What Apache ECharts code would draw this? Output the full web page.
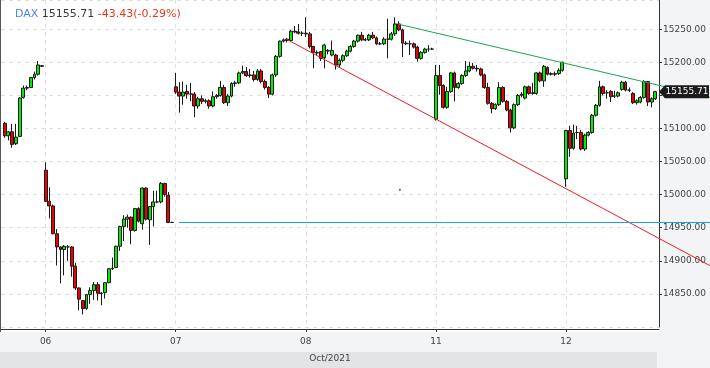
<!DOCTYPE html>
<html><head><meta charset="utf-8">
<script src="https://cdn.jsdelivr.net/npm/echarts/dist/echarts.min.js"></script>
<style>html,body{margin:0;padding:0;background:#f3f4f6}#c{width:710px;height:368px}</style>
</head><body><div id="c"></div>
<script>
// ---- data ----
const symbolName = 'DAX';
const lastText = '15155.71';
const changeText = '-43.43(-0.29%)';
const monthLabel = 'Oct/2021';
const dayLabels = ['05', '06', '07', '08', '11', '12'];
const slotTimes = []; // 15-minute slots 09:00 .. 17:30
for (let m = 9 * 60; m <= 17 * 60 + 30; m += 15) slotTimes.push(String(Math.floor(m / 60)).padStart(2, '0') + ':' + String(m % 60).padStart(2, '0'));
const yTicks = [14850, 14900, 14950, 15000, 15050, 15100, 15150, 15200, 15250];

// [open, close, low, high]
const oct05 = [
  [15108,15089,15086,15110],[15089,15095,15082,15096],[15095,15076,15071,15107],[15077,15087,15075,15107],
  [15088,15146,15087,15147],[15147,15161,15145,15165],[15161,15162,15158,15165],[15162,15177,15161,15178],
  [15177,15182,15174,15186],[15182,15196,15180,15202],[15195,15194,15193,15196]
];
const oct06 = [
  [15037,14990,14989,15049],[14990,14983,14964,15011],[14983,14941,14940,14985],[14941,14921,14893,14948],
  [14921,14917,14866,14922],[14917,14922,14878,14924],[14921,14921,14900,14924],[14921,14892,14876,14922],
  [14892,14859,14856,14897],[14859,14842,14825,14860],[14840,14828,14819,14841],[14828,14849,14826,14850],
  [14849,14855,14835,14860],[14855,14864,14841,14868],[14864,14851,14840,14868],[14851,14851,14833,14853],
  [14852,14867,14843,14868],[14867,14888,14866,14889],[14888,14889,14886,14905],[14890,14922,14889,14923],
  [14922,14952,14915,14953],[14952,14963,14930,14969],[14963,14966,14950,14970],[14966,14946,14925,14967],
  [14946,14979,14944,14980],[14979,14960,14958,14981],[14956,15010,14947,15011],[15010,14963,14961,15011],
  [14962,14982,14924,14983],[14982,14989,14952,15006],[14989,14989,14987,15006],[14989,15017,14987,15019],
  [15017,15000,14997,15018],[14999,14958,14957,15004],[14958,14958,14957,14959]
];
const oct07 = [
  [15163,15155,15152,15184],[15155,15149,15124,15170],[15149,15155,15136,15171],[15156,15152,15145,15166],
  [15152,15152,15141,15169],[15152,15134,15117,15155],[15134,15145,15130,15148],[15145,15141,15137,15150],
  [15141,15142,15138,15145],[15142,15134,15130,15144],[15134,15148,15132,15156],[15148,15150,15145,15152],
  [15150,15162,15148,15172],[15162,15139,15137,15166],[15139,15149,15134,15152],[15149,15168,15147,15170],
  [15168,15169,15163,15172],[15169,15184,15167,15186],[15184,15186,15182,15195],[15186,15180,15178,15193],
  [15180,15181,15177,15190],[15181,15174,15171,15187],[15174,15187,15172,15190],[15187,15171,15168,15190],
  [15171,15162,15159,15174],[15162,15152,15146,15164],[15152,15181,15150,15183],[15181,15209,15178,15211],
  [15209,15232,15207,15233],[15232,15234,15230,15236],[15235,15233,15230,15237],[15233,15247,15232,15249],
  [15247,15246,15244,15255],[15246,15244,15242,15258],[15244,15244,15240,15247]
];
const oct08 = [
  [15244,15243,15238,15268],[15243,15224,15221,15246],[15224,15215,15191,15225],[15215,15214,15210,15218],
  [15216,15206,15202,15217],[15207,15226,15191,15228],[15218,15217,15212,15220],[15211,15218,15209,15233],
  [15211,15196,15189,15213],[15196,15203,15192,15206],[15203,15210,15200,15212],[15210,15217,15208,15219],
  [15217,15224,15215,15226],[15224,15232,15222,15234],[15232,15241,15230,15242],[15241,15234,15232,15246],
  [15234,15234,15232,15237],[15234,15241,15232,15243],[15241,15237,15235,15246],[15237,15228,15226,15239],
  [15228,15228,15226,15231],[15228,15235,15226,15238],[15235,15235,15206,15266],[15235,15243,15233,15246],
  [15243,15258,15240,15268],[15258,15249,15247,15262],[15249,15229,15208,15251],[15229,15228,15226,15232],
  [15228,15228,15211,15233],[15228,15223,15221,15230],[15223,15206,15201,15225],[15206,15215,15204,15217],
  [15215,15220,15213,15222],[15220,15220,15216,15226],[15220,15220,15219,15222]
];
const oct11 = [
  [15114,15180,15112,15196],[15180,15165,15151,15196],[15165,15132,15130,15167],[15132,15156,15130,15163],
  [15156,15184,15154,15185],[15184,15162,15141,15186],[15162,15168,15160,15170],[15168,15180,15166,15182],
  [15180,15187,15178,15202],[15187,15194,15185,15201],[15194,15191,15189,15199],[15191,15190,15186,15196],
  [15190,15181,15179,15192],[15181,15162,15160,15183],[15162,15138,15136,15169],[15138,15130,15123,15140],
  [15130,15136,15128,15138],[15136,15162,15134,15170],[15162,15141,15139,15164],[15141,15128,15126,15143],
  [15128,15101,15094,15130],[15101,15136,15099,15138],[15136,15150,15134,15152],[15150,15152,15147,15155],
  [15146,15163,15144,15165],[15163,15153,15151,15165],[15154,15153,15151,15169],[15153,15184,15151,15185],
  [15184,15172,15170,15186],[15172,15194,15163,15196],[15192,15182,15180,15194],[15182,15183,15180,15185],
  [15183,15182,15179,15186],[15183,15188,15181,15191],[15188,15200,15186,15201]
];
const oct12 = [
  [15024,15097,15012,15098],[15097,15070,15057,15104],[15070,15093,15068,15106],[15094,15094,15084,15104],
  [15094,15069,15067,15098],[15069,15090,15066,15092],[15090,15094,15088,15096],[15094,15120,15092,15122],
  [15120,15135,15118,15137],[15135,15163,15133,15172],[15163,15153,15150,15165],[15154,15154,15145,15158],
  [15156,15148,15140,15158],[15149,15149,15146,15157],[15149,15154,15147,15156],[15159,15170,15157,15172],
  [15170,15158,15156,15172],[15158,15158,15155,15162],[15153,15139,15137,15155],[15139,15142,15136,15144],
  [15140,15147,15138,15149],[15147,15171,15145,15173],[15171,15140,15134,15172],[15140,15145,15132,15147],
  [15145,15155.71,15143,15157]
];
const lastClose = 15155.71;

// drawn lines: [candle index, price]
const greenTrend = [[106.9, 15258], [190.7, 15148.5]];
const redTrend = [[76.85, 15235.3], [190.7, 14896.4]];
const cyanLevel = [[47.9, 14961], [190.7, 14961]];
const stray = [[107.3, 15010]];

// ---- build ----
const EMPTY = ['-', '-', '-', '-'];
const days = [oct05, oct06, oct07, oct08, oct11, oct12];
const categories = ['05 14:45'];
const candles = [EMPTY];
days.forEach((d, di) => {
  const startSlot = di === 0 ? slotTimes.length - d.length : 0;
  d.forEach((c, i) => { categories.push(dayLabels[di] + ' ' + slotTimes[startSlot + i]); candles.push(c); });
});
categories.push('12 15:15'); candles.push(EMPTY);

const FONT = 'DejaVu Sans';
const GL = 1, GR = 51, GT = 0, GB = 38, W = 710;
const step = (W - GL - GR) / (categories.length - 1);
const uMin = -GL / step, uMax = uMin + W / step;
const YMIN = 14800, YMAX = 15294.2;
const isDayStart = (idx, val) => /09:00$/.test(val);

const chart = echarts.init(document.getElementById('c'));
chart.setOption({
  animation: false,
  backgroundColor: '#f3f4f6',
  title: {
    left: 10, top: 4,
    text: '{n|' + symbolName + '} {p|' + lastText + '} {c|' + changeText + '}',
    textStyle: { fontFamily: FONT, fontSize: 11, fontWeight: 'normal',
      rich: { n: { color: '#4a7ff2', fontFamily: FONT, fontSize: 11 }, p: { color: '#3a3a3a', fontFamily: FONT, fontSize: 11 }, c: { color: '#e8361e', fontFamily: FONT, fontSize: 11 } } }
  },
  graphic: [
    { type: 'rect', z: -100, silent: true, shape: { x: 0, y: 0, width: 659, height: 332 }, style: { fill: '#ffffff' } },
    { type: 'rect', z: -100, silent: true, shape: { x: 0, y: 352, width: 657, height: 16 }, style: { fill: '#e3e4e6' } },
    { type: 'line', z: 50, silent: true, shape: { x1: 0.5, y1: 0, x2: 0.5, y2: 332 }, style: { stroke: '#555', lineWidth: 1 } }
  ],
  grid: [
    { left: GL, right: GR, top: GT, bottom: GB },
    { left: 0, right: 0, top: GT, bottom: GB }
  ],
  xAxis: [
    { type: 'category', gridIndex: 0, data: categories, boundaryGap: false, offset: 2,
      axisLine: { lineStyle: { color: '#333', width: 1 } },
      axisTick: { interval: isDayStart, length: 3, lineStyle: { color: '#333' } },
      axisLabel: { interval: isDayStart, formatter: v => v.slice(0, 2), fontFamily: FONT, fontSize: 9, color: '#444', margin: 8 },
      splitLine: { show: true, interval: isDayStart, lineStyle: { color: '#e2e2e2', type: [4, 4] } },
      name: monthLabel, nameLocation: 'middle', nameGap: 25,
      nameTextStyle: { fontFamily: FONT, fontSize: 9, color: '#444' } },
    { type: 'value', gridIndex: 1, min: uMin, max: uMax, show: false, splitLine: { show: false } }
  ],
  yAxis: [
    { type: 'value', gridIndex: 0, position: 'right', min: YMIN, max: YMAX, interval: 50,
      axisLine: { show: true, lineStyle: { color: '#333' } },
      axisTick: { show: true, length: 3, lineStyle: { color: '#333' } },
      axisLabel: { showMinLabel: false, showMaxLabel: false, margin: 4, fontFamily: FONT, fontSize: 9, color: '#444',
        formatter: v => (yTicks.indexOf(v) >= 0 ? v.toFixed(2) : '') },
      splitLine: { show: true, lineStyle: { color: '#e2e2e2', type: [4, 4] } } },
    { type: 'value', gridIndex: 1, min: YMIN, max: YMAX, show: false, splitLine: { show: false } }
  ],
  series: [
    { type: 'candlestick', xAxisIndex: 0, yAxisIndex: 0, data: candles, barWidth: 3.4,
      itemStyle: { color: '#00ee00', color0: '#ee0000', borderColor: '#1a1a1a', borderColor0: '#1a1a1a', borderWidth: 1 },
      markPoint: {
        symbol: 'path://M0,6 L6,0 L50,0 L50,12 L6,12 Z', symbolSize: [50, 13], symbolOffset: [25, 0], symbolKeepAspect: false,
        itemStyle: { color: '#1b1b1b' }, z: 20,
        label: { show: true, position: 'inside', offset: [3, 0], formatter: lastText, color: '#fff', fontFamily: FONT, fontSize: 9 },
        data: [{ coord: [categories.length - 1, lastClose] }]
      } },
    { type: 'line', xAxisIndex: 1, yAxisIndex: 1, data: greenTrend, symbol: 'none', silent: true, z: 5,
      lineStyle: { color: '#1fa64a', width: 1 } },
    { type: 'line', xAxisIndex: 1, yAxisIndex: 1, data: redTrend, symbol: 'none', silent: true, z: 5,
      lineStyle: { color: '#ee1c24', width: 1 } },
    { type: 'line', xAxisIndex: 1, yAxisIndex: 1, data: cyanLevel, symbol: 'none', silent: true, z: 5,
      lineStyle: { color: '#16a0e0', width: 1 } },
    { type: 'scatter', xAxisIndex: 1, yAxisIndex: 1, data: stray, symbolSize: 2, silent: true, z: 5,
      itemStyle: { color: '#222' } }
  ]
});
</script></body></html>
